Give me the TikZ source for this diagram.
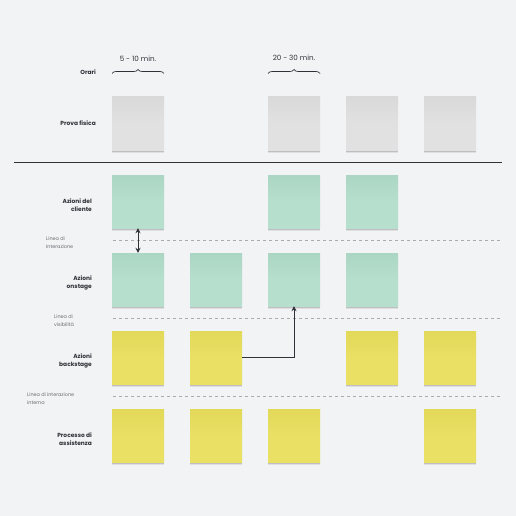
\documentclass[tikz,border=0pt]{standalone}
\usepackage{fontspec}
\setmainfont{Poppins}
\usetikzlibrary{arrows.meta,shadows,decorations.pathreplacing}
\definecolor{bg}{HTML}{F2F3F5}
\definecolor{grayN}{HTML}{E1E1E1}
\definecolor{grayT}{HTML}{D9D9D9}
\definecolor{greenN}{HTML}{B6E0CD}
\definecolor{greenT}{HTML}{ABD6C3}
\definecolor{yellowN}{HTML}{E9E064}
\definecolor{yellowT}{HTML}{E2D95A}
\definecolor{ink}{HTML}{2E3238}
\definecolor{dashc}{HTML}{A8ACB0}
\definecolor{labc}{HTML}{6A6E73}
\tikzset{
  note/.style={minimum width=52pt, minimum height=53pt, inner sep=0pt, draw=none,
    drop shadow={shadow xshift=0pt, shadow yshift=-3pt, opacity=0.08, fill=black},
    drop shadow={shadow xshift=0pt, shadow yshift=-1.6pt, opacity=0.14, fill=black}},
  gnote/.style={note, top color=grayT, bottom color=grayN, middle color=grayN},
  cnote/.style={note, top color=greenT, bottom color=greenN, middle color=greenN},
  ynote/.style={note, top color=yellowT, bottom color=yellowN, middle color=yellowN},
  rowlab/.style={anchor=east, align=right, font=\fontsize{5.9}{7.8}\selectfont\bfseries, text=ink, inner sep=0pt},
  linelab/.style={anchor=north west, align=left, font=\fontsize{4.9}{8}\selectfont, text=labc, inner sep=0pt},
  sep/.style={draw=dashc, line width=0.7pt, dash pattern=on 3pt off 3pt},
  arr/.style={draw=ink, line width=0.8pt},
  timelab/.style={font=\fontsize{7.2}{8}\selectfont, text=ink, inner sep=0pt},
  br/.style={draw=ink, line width=0.7pt, decorate, decoration={brace, amplitude=4pt}},
  ntip/.tip={Stealth[length=5pt,width=5pt]}
}
\begin{document}
\begin{tikzpicture}[x=1pt, y=-1pt]
\fill[bg] (0,0) rectangle (516,516);
\useasboundingbox (0,0) rectangle (516,516);

% row labels
\node[rowlab] (lOrari) at (96,72) {Orari};
\node[rowlab] (lProva) at (96,123.5) {Prova fisica};
\node[rowlab] (lCliente) at (92,205) {Azioni del\\cliente};
\node[rowlab] (lOn) at (92,283) {Azioni\\onstage};
\node[rowlab] (lBack) at (92,361) {Azioni\\backstage};
\node[rowlab] (lProc) at (92,439) {Processo di\\assistenza};

% line labels
\node[linelab] (llInt) at (46,237) {Linea di\\Interazione};
\node[linelab] (llVis) at (54,315) {Linea di\\visibilità};
\node[linelab] (llIntInt) at (27,393) {Linea di interazione\\interna};

% separators
\coordinate (s0a) at (14,162); \coordinate (s0b) at (502,162);
\draw[draw=ink, line width=0.8pt] (s0a) -- (s0b);
\coordinate (s1a) at (113,240); \coordinate (s1b) at (502,240);
\coordinate (s2a) at (113,318); \coordinate (s2b) at (502,318);
\coordinate (s3a) at (113,396); \coordinate (s3b) at (502,396);
\draw[sep] (s1a) -- (s1b);
\draw[sep] (s2a) -- (s2b);
\draw[sep] (s3a) -- (s3b);

% time braces
\coordinate (b1a) at (112,73.5); \coordinate (b1b) at (164,73.5);
\coordinate (b3a) at (268,73.5); \coordinate (b3b) at (320,73.5);
\draw[br] (b1a) -- (b1b);
\draw[br] (b3a) -- (b3b);
\node[timelab] (t1) at (138,59) {5 - 10 min.};
\node[timelab] (t3) at (294,57.5) {20 - 30 min.};

% prova fisica
\node[gnote] (p1) at (138,123.5) {};
\node[gnote] (p3) at (294,123.5) {};
\node[gnote] (p4) at (372,123.5) {};
\node[gnote] (p5) at (450,123.5) {};

% azioni del cliente
\node[cnote] (c1) at (138,201.5) {};
\node[cnote] (c3) at (294,201.5) {};
\node[cnote] (c4) at (372,201.5) {};

% onstage
\node[cnote] (o1) at (138,279.5) {};
\node[cnote] (o2) at (216,279.5) {};
\node[cnote] (o3) at (294,279.5) {};
\node[cnote] (o4) at (372,279.5) {};

% backstage
\node[ynote] (b1) at (138,357.5) {};
\node[ynote] (b2) at (216,357.5) {};
\node[ynote] (b4) at (372,357.5) {};
\node[ynote] (b5) at (450,357.5) {};

% processo
\node[ynote] (r1) at (138,435.5) {};
\node[ynote] (r2) at (216,435.5) {};
\node[ynote] (r3) at (294,435.5) {};
\node[ynote] (r5) at (450,435.5) {};

% connectors
\draw[arr, ntip-ntip] (c1.south) -- (o1.north);
\draw[arr, -ntip] (b2.east) -| (o3.south);
\end{tikzpicture}
\end{document}
